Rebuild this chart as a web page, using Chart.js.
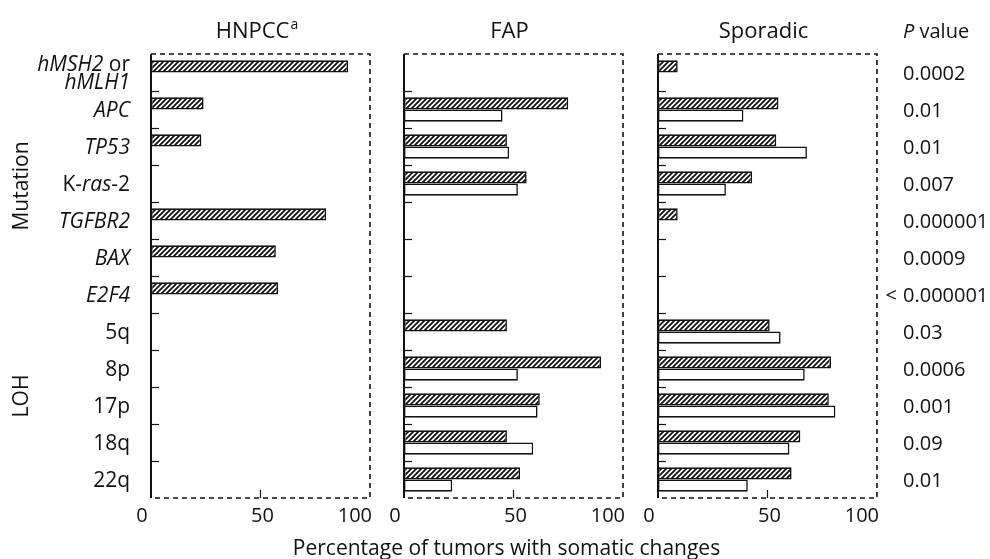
<!DOCTYPE html>
<html>
<head>
<meta charset="utf-8">
<script src="https://cdn.jsdelivr.net/npm/chart.js@4.4.1/dist/chart.umd.min.js"></script>
<style>
  html, body { margin: 0; padding: 0; background: #fff; }
  #wrap { position: relative; width: 990px; height: 559px; overflow: hidden; }
  canvas { position: absolute; top: 0; }
  #xtitle { position: absolute; left: 0; width: 1013px; top: 533px; line-height: 21px; text-align: center; font: 21px "Open Sans"; color: #111; }
</style>
</head>
<body>
<div id="wrap">
  <canvas id="c-hnpcc" width="380" height="559" style="left:0"></canvas>
  <canvas id="c-fap" width="260" height="559" style="left:380px"></canvas>
  <canvas id="c-spor" width="350" height="559" style="left:640px"></canvas>
  <div id="xtitle">Percentage of tumors with somatic changes</div>
</div>
<script>
// data
const categories = ['hMSH2 or hMLH1', 'APC', 'TP53', 'K-ras-2', 'TGFBR2', 'BAX', 'E2F4', '5q', '8p', '17p', '18q', '22q'];
const pValues = ['0.0002', '0.01', '0.01', '0.007', '0.000001', '0.0009', '< 0.000001', '0.03', '0.0006', '0.001', '0.09', '0.01'];
const xTicks = [0, 50, 100];

// hatched bar = upper bar of each pair, open bar = lower one
const hnpccHatched = [90, 24, 23, null, 80, 57, 58, null, null, null, null, null];
const hnpccOpen = [null, null, null, null, null, null, null, null, null, null, null, null];
const fapHatched = [null, 75, 47, 56, null, null, null, 47, 90, 62, 47, 53];
const fapOpen = [null, 45, 48, 52, null, null, null, null, 52, 61, 59, 22];
const sporHatched = [9, 55, 54, 43, 9, null, null, 51, 79, 78, 65, 61];
const sporOpen = [null, 39, 68, 31, null, null, null, 56, 67, 81, 60, 41];

const INK = '#111';
const FONT = '"Open Sans", sans-serif';
const italicWords = ['hMSH2', 'hMLH1', 'APC', 'TP53', 'ras', 'TGFBR2', 'BAX', 'E2F4'];

function makeHatch(ctx) {
  const n = 5;
  const c = document.createElement('canvas');
  c.width = n; c.height = n;
  const g = c.getContext('2d');
  g.fillStyle = '#fff';
  g.fillRect(0, 0, n, n);
  g.strokeStyle = INK;
  g.lineWidth = 1.8;
  g.beginPath();
  g.moveTo(-1, n + 1); g.lineTo(n + 1, -1);
  g.moveTo(-1, 1); g.lineTo(1, -1);
  g.moveTo(n - 1, n + 1); g.lineTo(n + 1, n - 1);
  g.stroke();
  return ctx.createPattern(c, 'repeat');
}

// split a category into lines of [text, italic] runs
function labelLines(label) {
  return label.replace(' or ', ' or\n').split('\n').map(line =>
    (line.match(/[A-Za-z0-9]+|[^A-Za-z0-9]+/g) || []).map(t => [t, italicWords.includes(t)])
  );
}

function drawRuns(ctx, runs, xRight, yBase, size) {
  const fontOf = it => (it ? 'italic ' : '') + size + 'px ' + FONT;
  let w = 0;
  runs.forEach(([t, it]) => { ctx.font = fontOf(it); w += ctx.measureText(t).width; });
  let x = xRight - w;
  ctx.textAlign = 'left';
  runs.forEach(([t, it]) => { ctx.font = fontOf(it); ctx.fillText(t, x, yBase); x += ctx.measureText(t).width; });
}

function drawTitle(chart, text, sup) {
  const { ctx, chartArea: a } = chart;
  ctx.font = '22px ' + FONT;
  const w = ctx.measureText(text).width;
  ctx.font = '14px ' + FONT;
  const ws = sup ? ctx.measureText(sup).width : 0;
  const left = (a.left + a.right) / 2 - 4 - (w + ws) / 2;
  ctx.fillStyle = INK;
  ctx.textAlign = 'left';
  ctx.font = '22px ' + FONT;
  ctx.fillText(text, left, 38);
  if (sup) {
    ctx.font = '14px ' + FONT;
    ctx.fillText(sup, left + w + 1, 29);
  }
}

const framePlugin = {
  id: 'frame',
  afterDatasetsDraw(chart) {
    const { ctx, chartArea: a, scales: { x, y } } = chart;
    ctx.save();
    ctx.strokeStyle = INK;
    ctx.lineWidth = 1.6;
    ctx.setLineDash([5, 4]);
    ctx.beginPath();
    ctx.moveTo(a.left, a.top);
    ctx.lineTo(a.right, a.top);
    ctx.lineTo(a.right, a.bottom);
    ctx.lineTo(a.left, a.bottom);
    ctx.stroke();
    ctx.setLineDash([]);
    ctx.lineWidth = 2;
    ctx.beginPath();
    ctx.moveTo(a.left, a.top);
    ctx.lineTo(a.left, a.bottom);
    ctx.stroke();

    // small ticks between categories, pointing inwards
    ctx.lineWidth = 1.2;
    for (let i = 1; i < categories.length; i++) {
      const yy = Math.round((y.getPixelForValue(i - 1) + y.getPixelForValue(i)) / 2) + 0.5;
      ctx.beginPath();
      ctx.moveTo(a.left, yy);
      ctx.lineTo(a.left + 8, yy);
      ctx.stroke();
    }
    const x50 = x.getPixelForValue(50);
    ctx.beginPath();
    ctx.moveTo(x50, a.bottom);
    ctx.lineTo(x50, a.bottom - 8);
    ctx.stroke();

    // x tick labels
    ctx.fillStyle = INK;
    ctx.font = '20px ' + FONT;
    xTicks.forEach((v, i) => {
      const px = x.getPixelForValue(v);
      if (i === 0) { ctx.textAlign = 'center'; ctx.fillText(String(v), px - 9, a.bottom + 24); }
      else if (i === xTicks.length - 1) { ctx.textAlign = 'right'; ctx.fillText(String(v), px + 2, a.bottom + 24); }
      else { ctx.textAlign = 'center'; ctx.fillText(String(v), px + 2, a.bottom + 24); }
    });
    ctx.restore();
  }
};

function makeChart(id, hatched, open, pad, decorate) {
  const canvas = document.getElementById(id);
  const hatch = makeHatch(canvas.getContext('2d'));
  return new Chart(canvas, {
    type: 'bar',
    data: {
      labels: categories,
      datasets: [
        { data: hatched, backgroundColor: hatch, borderColor: INK, borderWidth: 1.6, borderSkipped: false,
          categoryPercentage: 0.66, barPercentage: 1 },
        { data: open, backgroundColor: '#fff', borderColor: INK, borderWidth: 1.6, borderSkipped: false,
          categoryPercentage: 0.66, barPercentage: 1 }
      ]
    },
    options: {
      indexAxis: 'y',
      responsive: false,
      animation: false,
      layout: { padding: pad },
      scales: {
        x: { display: false, min: 0, max: 100 },
        y: { display: false }
      },
      plugins: { legend: { display: false }, tooltip: { enabled: false } }
    },
    plugins: [framePlugin, { id: 'deco', afterDraw: chart => { chart.ctx.save(); decorate(chart); chart.ctx.restore(); } }]
  });
}

// HNPCC panel, with row labels and group labels on the left
makeChart('c-hnpcc', hnpccHatched, hnpccOpen, { left: 151, right: 10, top: 54, bottom: 61 }, chart => {
  const { ctx, scales: { y } } = chart;
  drawTitle(chart, 'HNPCC', 'a');
  ctx.fillStyle = INK;
  categories.forEach((c, i) => {
    const lines = labelLines(c);
    const yc = y.getPixelForValue(i);
    lines.forEach((runs, k) => {
      const off = (k - (lines.length - 1) / 2) * 18;
      drawRuns(ctx, runs, 130, yc + off + 7, 21);
    });
  });
  ctx.font = '21px ' + FONT;
  ctx.textAlign = 'center';
  ctx.textBaseline = 'middle';
  [['Mutation', 186], ['LOH', 396]].forEach(([t, yy]) => {
    ctx.save();
    ctx.translate(22, yy);
    ctx.rotate(-Math.PI / 2);
    ctx.fillText(t, 0, 0);
    ctx.restore();
  });
});

makeChart('c-fap', fapHatched, fapOpen, { left: 24, right: 17, top: 54, bottom: 61 }, chart => {
  drawTitle(chart, 'FAP');
});

// Sporadic panel, with P values on the right
makeChart('c-spor', sporHatched, sporOpen, { left: 18, right: 113, top: 54, bottom: 61 }, chart => {
  const { ctx, scales: { y } } = chart;
  drawTitle(chart, 'Sporadic');
  const xp = 263;
  ctx.fillStyle = INK;
  ctx.textAlign = 'left';
  ctx.font = 'italic 20px ' + FONT;
  ctx.fillText('P', xp, 38);
  const wp = ctx.measureText('P ').width;
  ctx.font = '20px ' + FONT;
  ctx.fillText('value', xp + wp, 38);
  pValues.forEach((p, i) => {
    const yb = y.getPixelForValue(i) + 7;
    let s = p;
    if (s.startsWith('< ')) {
      ctx.textAlign = 'right';
      ctx.fillText('<', xp - 6, yb);
      s = s.slice(2);
    }
    ctx.textAlign = 'left';
    ctx.fillText(s, xp, yb);
  });
});
</script>
</body>
</html>
